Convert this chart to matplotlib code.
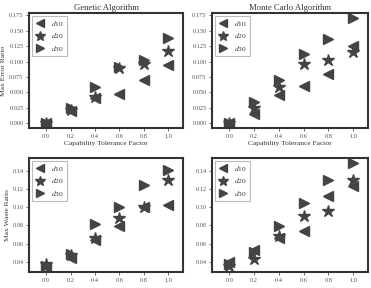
import matplotlib
matplotlib.use("Agg")
import matplotlib.pyplot as plt

plt.rcParams['font.family'] = ['Liberation Serif', 'DejaVu Serif']
plt.rcParams['mathtext.fontset'] = 'stix'

x = [0.0, 0.2, 0.4, 0.6, 0.8, 1.0]

ga_err_d10 = [0.000, 0.020, 0.041, 0.048, 0.070, 0.095]
ga_err_d20 = [0.000, 0.022, 0.043, 0.090, 0.096, 0.117]
ga_err_d30 = [0.000, 0.024, 0.058, 0.092, 0.102, 0.139]

mc_err_d10 = [0.000, 0.015, 0.045, 0.060, 0.079, 0.125]
mc_err_d20 = [0.000, 0.024, 0.058, 0.096, 0.102, 0.115]
mc_err_d30 = [0.000, 0.035, 0.070, 0.112, 0.137, 0.171]

ga_waste_d10 = [0.035, 0.044, 0.064, 0.079, 0.100, 0.102]
ga_waste_d20 = [0.038, 0.048, 0.066, 0.088, 0.100, 0.130]
ga_waste_d30 = [0.036, 0.049, 0.082, 0.100, 0.124, 0.141]

mc_waste_d10 = [0.040, 0.053, 0.066, 0.074, 0.112, 0.123]
mc_waste_d20 = [0.036, 0.043, 0.069, 0.090, 0.096, 0.130]
mc_waste_d30 = [0.038, 0.051, 0.079, 0.105, 0.130, 0.148]

labels = ["$d$10", "$d$20", "$d$30"]
markers = ['<', '*', '>']
titles = ["Genetic Algorithm", "Monte Carlo Algorithm"]

fig = plt.figure(figsize=(3.71, 2.88), dpi=100)
W, H = 371, 288
boxes = [(29, 13, 183, 128), (212, 13, 368, 128), (29, 158, 183, 272), (212, 158, 368, 272)]
data = [(ga_err_d10, ga_err_d20, ga_err_d30), (mc_err_d10, mc_err_d20, mc_err_d30),
        (ga_waste_d10, ga_waste_d20, ga_waste_d30), (mc_waste_d10, mc_waste_d20, mc_waste_d30)]
color = '#444444'
for i, (b, ser) in enumerate(zip(boxes, data)):
    l, t, r, bt = b
    ax = fig.add_axes([l / W, 1 - bt / H, (r - l) / W, (bt - t) / H])
    for s, m, lab in zip(ser, markers, labels):
        ms = 9 if m == '*' else 7.5
        ax.plot(x, s, linestyle='none', marker=m, markersize=ms, color=color, label=lab)
    ax.set_xlim(-0.14, 1.12)
    ax.set_xticks(x)
    if i < 2:
        ax.set_ylim(-0.008, 0.179)
        ax.set_yticks([0.0, 0.025, 0.05, 0.075, 0.1, 0.125, 0.15, 0.175])
        ax.set_yticklabels([f"{v:.3f}" for v in [0.0, 0.025, 0.05, 0.075, 0.1, 0.125, 0.15, 0.175]])
        ax.set_title(titles[i], fontsize=6.2, color='#333333', pad=2)
        ax.set_xlabel("Capability Tolerance Factor", fontsize=5.4, color='#333333', labelpad=1.5)
    else:
        ax.set_ylim(0.029, 0.154)
        ax.set_yticks([0.04, 0.06, 0.08, 0.10, 0.12, 0.14])
        ax.set_yticklabels([f"{v:.2f}" for v in [0.04, 0.06, 0.08, 0.10, 0.12, 0.14]])
        ax.set_xlabel(r"$\delta$", fontsize=5.4, color='#333333', labelpad=3)
    if i == 0:
        ax.set_ylabel("Max Error Ratio", fontsize=5.4, color='#333333', labelpad=2)
    if i == 2:
        ax.set_ylabel("Max Waste Ratio", fontsize=5.4, color='#333333', labelpad=2)
    ax.set_xticklabels([f"{v:.1f}" for v in x])
    ax.tick_params(labelsize=4.6, colors='#555555', length=2, width=0.6, pad=2)
    for sp in ax.spines.values():
        sp.set_linewidth(1.5)
        sp.set_color('#333333')
    leg = ax.legend(loc='upper left', fontsize=5.4, frameon=True, fancybox=False,
                    borderpad=0.45, labelspacing=0.45, handletextpad=0.9, handlelength=1.2,
                    borderaxespad=0.35, markerscale=0.85)
    leg.get_frame().set_edgecolor('#aaaaaa')
    leg.get_frame().set_linewidth(0.8)
    for txt in leg.get_texts():
        txt.set_color('#333333')

fig.savefig("out.png", dpi=100)
